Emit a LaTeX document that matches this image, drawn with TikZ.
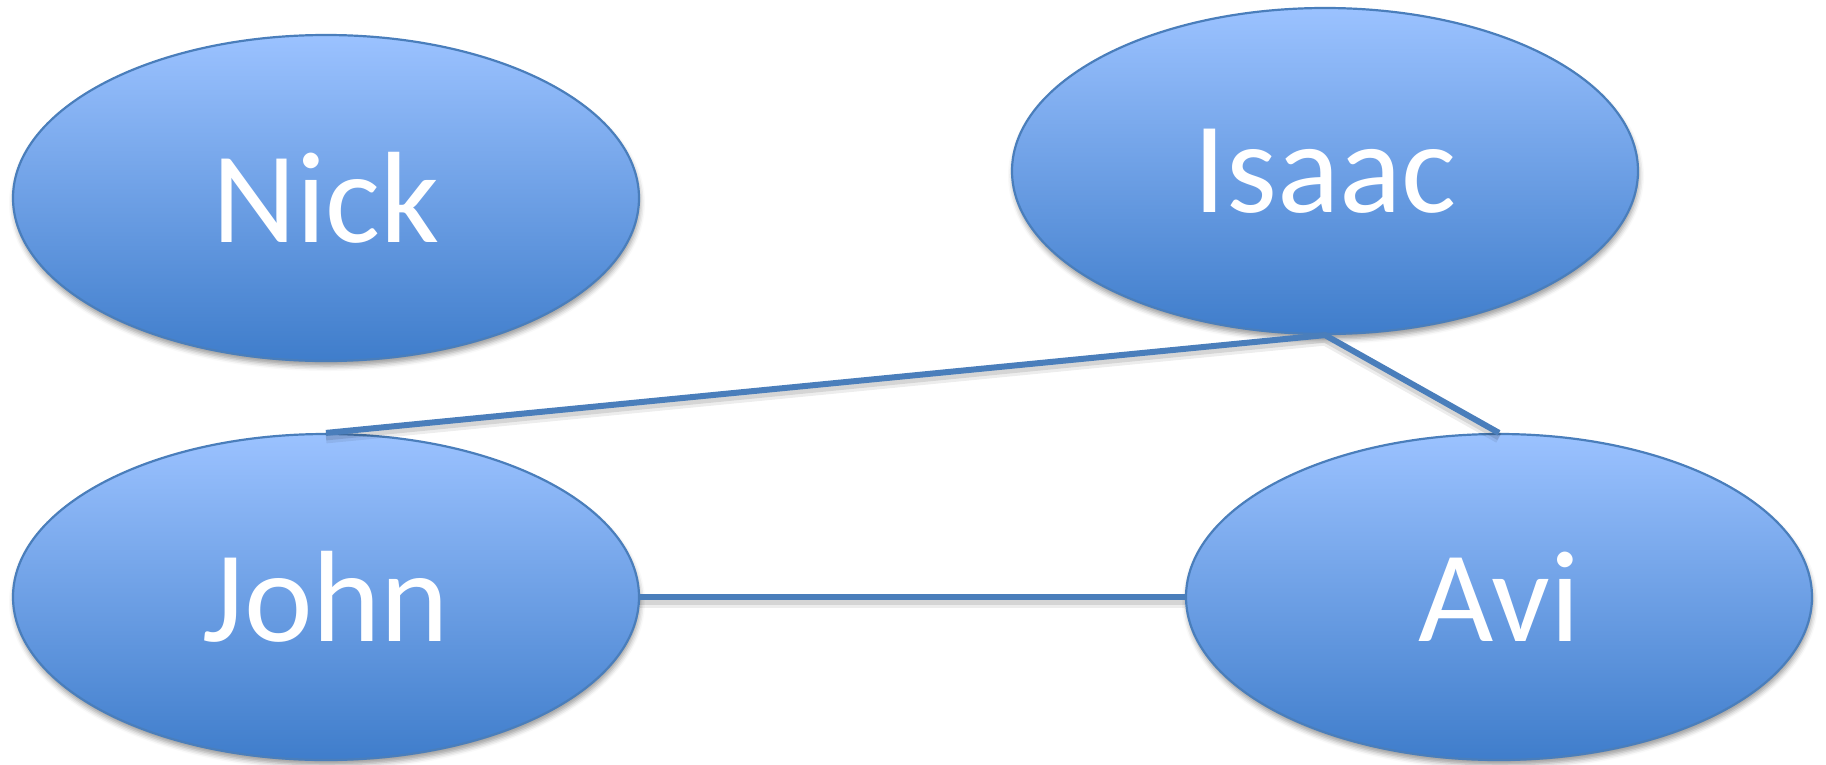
\documentclass[tikz,border=0pt]{standalone}
\usepackage{fontspec}
\setmainfont{Carlito}
\usetikzlibrary{shapes.geometric,shadows.blur}
\definecolor{ellTop}{RGB}{155,194,255}
\definecolor{ellMid}{RGB}{133,177,242}
\definecolor{ellBot}{RGB}{63,125,203}
\definecolor{edgeBlue}{RGB}{74,126,187}
\tikzset{
  person/.style={ellipse, minimum width=626pt, minimum height=326pt, inner sep=0pt,
    draw=edgeBlue, line width=2.2pt, top color=ellTop, middle color=ellMid, bottom color=ellBot,
    text=white, font=\fontsize{130}{156}\selectfont,
    blur shadow={shadow xshift=1pt, shadow yshift=-5pt, shadow blur radius=5pt, shadow opacity=40}},
  link/.style={draw=edgeBlue, line width=6pt},
  linkshadowA/.style={draw=black, opacity=0.07, line width=11pt, transform canvas={yshift=-5pt}},
  linkshadowB/.style={draw=black, opacity=0.10, line width=7pt, transform canvas={yshift=-4pt}}
}
\begin{document}
\begin{tikzpicture}[x=1pt,y=-1pt]
\useasboundingbox (0,0) rectangle (1826,764);
\node[person] (nick) at (326,198) {Nick};
\node[person] (isaac) at (1325,171) {Isaac};
\node[person] (john) at (326,597) {John};
\node[person] (avi) at (1499,597) {Avi};
\path[linkshadowA] (john.north) -- (isaac.south) -- (avi.north);
\path[linkshadowA] (john.east) -- (avi.west);
\path[linkshadowB] (john.north) -- (isaac.south) -- (avi.north);
\path[linkshadowB] (john.east) -- (avi.west);
\path[link] (john.north) -- (isaac.south) -- (avi.north);
\path[link] (john.east) -- (avi.west);
\end{tikzpicture}
\end{document}
